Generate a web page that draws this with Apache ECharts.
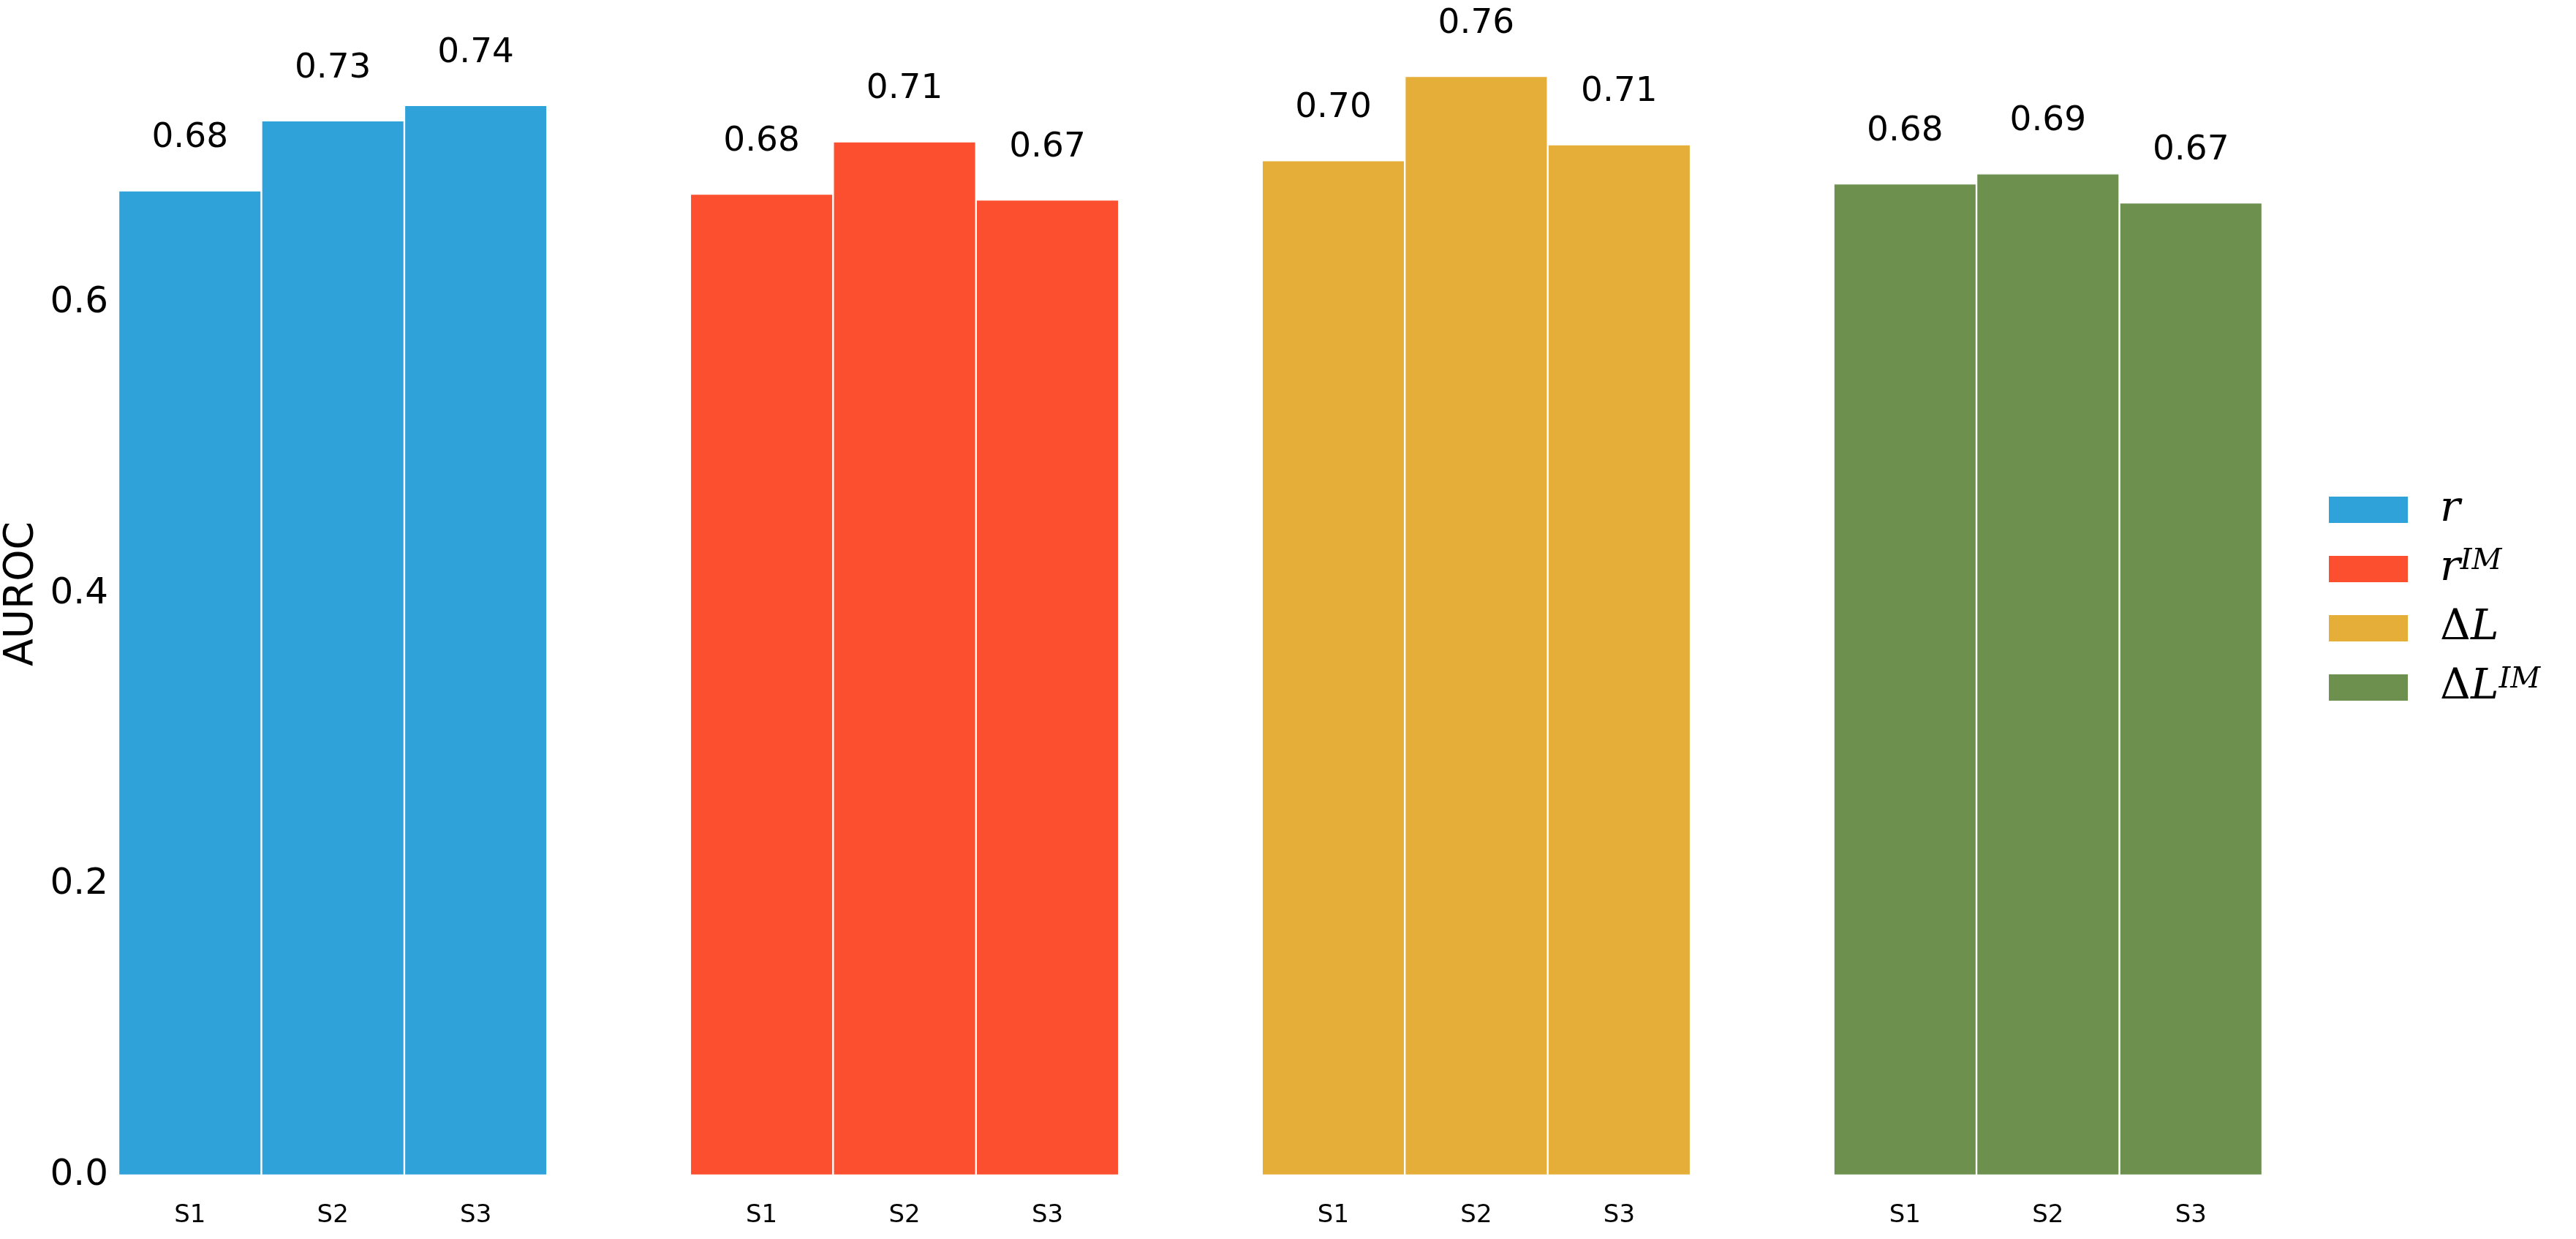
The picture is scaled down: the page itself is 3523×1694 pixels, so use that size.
<!DOCTYPE html>
<html>
<head>
<meta charset="utf-8">
<script src="https://cdn.jsdelivr.net/npm/echarts@6/dist/echarts.min.js"></script>
<style>
html, body { margin: 0; padding: 0; background: #fff; }
#draw_1 { width: 3523px; height: 1694px; }
</style>
</head>
<body>
<div id="draw_1"></div>
<script>
// one group of three bars per metric, one empty slot between groups
var subjects = ['S1', 'S2', 'S3'];
var metrics = ['r', 'r_IM', 'dL', 'dL_IM'];
var r_vals = [0.6775, 0.7256, 0.7362];
var rIM_vals = [0.6752, 0.7112, 0.6712];
var dL_vals = [0.6982, 0.7562, 0.7092];
var dLIM_vals = [0.6822, 0.6892, 0.6692];
var yTicks = [0, 0.2, 0.4, 0.6];
var colors = ['#30a2da', '#fc4f30', '#e5ae38', '#6d904f'];

var groups = [r_vals, rIM_vals, dL_vals, dLIM_vals];
var cats = [];
groups.forEach(function (g, i) {
	subjects.forEach(function (s) { cats.push(s); });
	if (i < groups.length - 1) cats.push('');
});

var serif = "'DejaVu Serif'";
// same token layout for every entry so all legend rows get the same height
var legendNames = {
	'r': '{up|}{it|r}{sup| }',
	'r_IM': '{up|}{it|r}{sup|IM}',
	'dL': '{up|Δ}{it|L}{sup| }',
	'dL_IM': '{up|Δ}{it|L}{sup|IM}'
};

var myChart_1 = echarts.init(document.getElementById('draw_1'));
function draw_1(){
	var series = groups.map(function (g, i) {
		var data = cats.map(function () { return '-'; });
		g.forEach(function (v, j) { data[i * 4 + j] = v; });
		return {
			name: metrics[i], type: 'bar', stack: 'all', barWidth: '100%',
			data: data,
			itemStyle: {color: colors[i], borderColor: '#ffffff', borderWidth: 1.2},
			label: {show: true, position: 'top', distance: 48, fontSize: 47, color: '#000',
				fontFamily: 'DejaVu Sans',
				formatter: function (p) { return p.value.toFixed(2); }}
		};
	});
	var option = {
		animation: false,
		backgroundColor: '#fff',
		grid: {left: 162, right: 429, top: 17, bottom: 87, outerBoundsMode: 'none', containLabel: false},
		legend: {
			orient: 'vertical', left: 3178, top: 662,
			itemWidth: 110, itemHeight: 38, itemGap: 21,
			data: metrics,
			icon: 'rect',
			formatter: function (n) { return legendNames[n]; },
			textStyle: {
				padding: [0, 0, 0, 38], lineHeight: 60,
				rich: {
					it: {fontFamily: serif, fontStyle: 'italic', fontSize: 58, color: '#000', lineHeight: 60, verticalAlign: 'middle'},
					up: {fontFamily: serif, fontSize: 58, color: '#000', lineHeight: 60, verticalAlign: 'middle'},
					sup: {fontFamily: serif, fontStyle: 'italic', fontSize: 40, color: '#000', lineHeight: 26, verticalAlign: 'top'}
				}
			}
		},
		xAxis: {
			type: 'category', data: cats,
			axisLine: {show: false}, axisTick: {show: false}, splitLine: {show: false},
			axisLabel: {interval: 0, fontSize: 34, color: '#000', margin: 38, fontFamily: 'DejaVu Sans'}
		},
		yAxis: {
			type: 'value', min: 0, max: 0.8, interval: 0.2,
			name: 'AUROC', nameLocation: 'middle', nameRotate: 90, nameGap: 92,
			nameTextStyle: {fontSize: 55, color: '#000', fontFamily: 'DejaVu Sans'},
			axisLine: {show: false}, axisTick: {show: false}, splitLine: {show: false},
			axisLabel: {fontSize: 50, color: '#000', margin: 14, fontFamily: 'DejaVu Sans',
				formatter: function (v) { return yTicks.indexOf(Math.round(v * 10) / 10) >= 0 ? v.toFixed(1) : ''; }}
		},
		series: series
	};
	myChart_1.setOption(option, true);
}
draw_1();
</script>
</body>
</html>
